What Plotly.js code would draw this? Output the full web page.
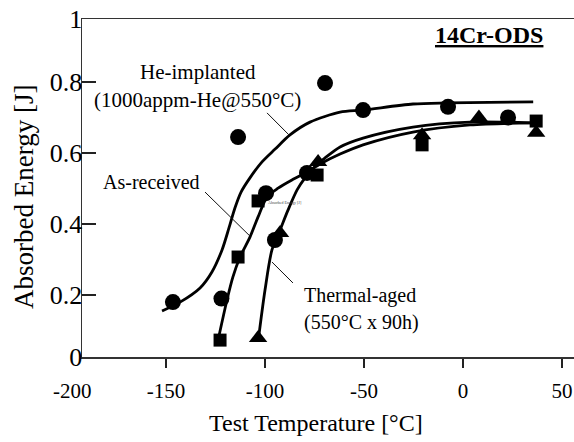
<!DOCTYPE html>
<html>
<head>
<meta charset="utf-8">
<script src="https://cdn.plot.ly/plotly-3.0.1.min.js"></script>
<style>html,body{margin:0;padding:0;background:#fff;}#chart{width:574px;height:442px;}</style>
</head>
<body>
<div id="chart"></div>
<script>
// ---- data ----
const circleX = [-146.5, -122, -113.6, -99.5, -95, -78.8, -69.7, -50.5, -7.6, 22.7];
const circleY = [0.18, 0.19, 0.645, 0.487, 0.355, 0.544, 0.797, 0.721, 0.73, 0.70];
const squareX = [-122.7, -113.6, -103.5, -73.7, -20.7, 36.9];
const squareY = [0.073, 0.307, 0.465, 0.538, 0.623, 0.69];
const triangleX = [-103.5, -92.4, -73.2, -20.7, 8, 36.9];
const triangleY = [0.079, 0.375, 0.575, 0.65, 0.70, 0.657];

// fitted curves
const heCurveX = [-152.0, -142.9, -132.8, -126.8, -121.7, -118.2, -115.2, -112.1, -107.6, -101.5, -94.9, -87.4, -77.3, -62.1, -50.5, -25.3, -7.6, 35.4];
const heCurveY = [0.155, 0.180, 0.220, 0.265, 0.327, 0.389, 0.445, 0.490, 0.530, 0.575, 0.611, 0.651, 0.687, 0.715, 0.721, 0.738, 0.741, 0.744];
const arCurveX = [-123.7, -119.2, -116.2, -112.6, -107.6, -103.5, -99.0, -93.4, -86.4, -78.8, -72.2, -62.1, -50.5, -25.3, 3.5, 33.8];
const arCurveY = [0.073, 0.186, 0.251, 0.307, 0.363, 0.420, 0.476, 0.501, 0.524, 0.546, 0.569, 0.597, 0.623, 0.659, 0.679, 0.685];
const taCurveX = [-103.5, -100.0, -96.5, -92.4, -88.4, -83.8, -79.8, -74.7, -69.7, -62.1, -50.5, -25.3, 3.5, 33.8];
const taCurveY = [0.068, 0.214, 0.327, 0.383, 0.439, 0.496, 0.530, 0.563, 0.586, 0.617, 0.642, 0.673, 0.687, 0.685];

// axis ticks
const xTickVals = [-150, -100, -50, 0, 50];
const xTickText = ['-150', '-100', '-50', '0', '50'];
const xRange = [-192.4, 56];
const yRange = [0.0254, 0.9775];
const yTickVals = [0.0254, 0.2, 0.4, 0.6, 0.8, 0.9775];
const yTickText = ['0', '0.2', '0.4', '0.6', '0.8', '1'];

const FONT = 'Liberation Serif, Times New Roman, serif';

const curveLine = {color: '#000', width: 2.8, shape: 'spline', smoothing: 0.8};
const traces = [
  {x: heCurveX, y: heCurveY, mode: 'lines', line: curveLine, hoverinfo: 'skip'},
  {x: arCurveX, y: arCurveY, mode: 'lines', line: curveLine, hoverinfo: 'skip'},
  {x: taCurveX, y: taCurveY, mode: 'lines', line: curveLine, hoverinfo: 'skip'},
  {x: circleX, y: circleY, mode: 'markers', marker: {symbol: 'circle', size: 16, color: '#000'}},
  {x: squareX, y: squareY, mode: 'markers', marker: {symbol: 'square', size: 13, color: '#000'}},
  {x: triangleX, y: triangleY, mode: 'markers', marker: {symbol: 'triangle-up', size: 16, color: '#000'}}
];

function leader(x0, y0, x1, y1) {
  return {type: 'line', xref: 'x', yref: 'y', x0: x0, y0: y0, x1: x1, y1: y1, line: {color: '#111', width: 1}};
}

const layout = {
  width: 574, height: 442,
  margin: {l: 82, r: 0, t: 19, b: 85},
  paper_bgcolor: '#fff', plot_bgcolor: '#fff',
  showlegend: false,
  font: {family: FONT, color: '#000'},
  xaxis: {
    range: xRange, tickvals: xTickVals, ticktext: xTickText,
    ticks: 'outside', ticklen: 9, tickwidth: 1.5, tickcolor: '#222',
    ticklabelstandoff: 5,
    showline: true, linecolor: '#333', linewidth: 1.5, mirror: true,
    showgrid: false, zeroline: false,
    tickfont: {family: FONT, size: 21, color: '#000'}
  },
  yaxis: {
    range: yRange, tickvals: yTickVals, ticktext: yTickText,
    ticks: 'inside', ticklen: 14, tickwidth: 1.5, tickcolor: '#222',
    ticklabelstandoff: -7,
    showline: true, linecolor: '#333', linewidth: 1.5,
    showgrid: false, zeroline: false,
    tickfont: {family: FONT, size: 26, color: '#000'}
  },
  shapes: [
    leader(-99.0, 0.713, -87.9, 0.651),
    leader(-130.3, 0.490, -107.6, 0.366),
    leader(-96.5, 0.293, -85.9, 0.234)
  ],
  annotations: [
    {text: '-200', xref: 'paper', yref: 'paper', x: -0.0183, y: -0.1006, showarrow: false,
     xanchor: 'center', yanchor: 'middle', font: {family: FONT, size: 21}},
    {text: 'Test Temperature [°C]', xref: 'paper', yref: 'paper', x: 0.4756, y: -0.195, showarrow: false,
     xanchor: 'center', yanchor: 'middle', font: {family: FONT, size: 24}},
    {text: 'Absorbed Energy [J]', xref: 'paper', yref: 'paper', x: -0.118, y: 0.473, showarrow: false,
     textangle: -90, xanchor: 'center', yanchor: 'middle', font: {family: FONT, size: 27}},
    {text: '<b><u>14Cr-ODS</u></b>', xref: 'x', yref: 'y', x: 13.1, y: 0.932, showarrow: false,
     xanchor: 'center', yanchor: 'middle', font: {family: FONT, size: 24}},
    {text: 'He-implanted', xref: 'x', yref: 'y', x: -133.8, y: 0.828, showarrow: false,
     xanchor: 'center', yanchor: 'middle', font: {family: FONT, size: 21}},
    {text: '(1000appm-He@550°C)', xref: 'x', yref: 'y', x: -134.1, y: 0.749, showarrow: false,
     xanchor: 'center', yanchor: 'middle', font: {family: FONT, size: 21}},
    {text: 'As-received', xref: 'x', yref: 'y', x: -157.1, y: 0.518, showarrow: false,
     xanchor: 'center', yanchor: 'middle', font: {family: FONT, size: 20}},
    {text: 'Thermal-aged', xref: 'x', yref: 'y', x: -81.3, y: 0.2, showarrow: false,
     xanchor: 'left', yanchor: 'middle', font: {family: FONT, size: 20}},
    {text: '(550°C x 90h)', xref: 'x', yref: 'y', x: -81.3, y: 0.124, showarrow: false,
     xanchor: 'left', yanchor: 'middle', font: {family: FONT, size: 20}},
    {text: 'Absorbed Energy [J]', xref: 'x', yref: 'y', x: -99.5, y: 0.46, showarrow: false,
     xanchor: 'left', yanchor: 'middle', font: {family: FONT, size: 4, color: '#444'}}
  ]
};

Plotly.newPlot('chart', traces, layout, {staticPlot: true, displayModeBar: false});
</script>
</body>
</html>
